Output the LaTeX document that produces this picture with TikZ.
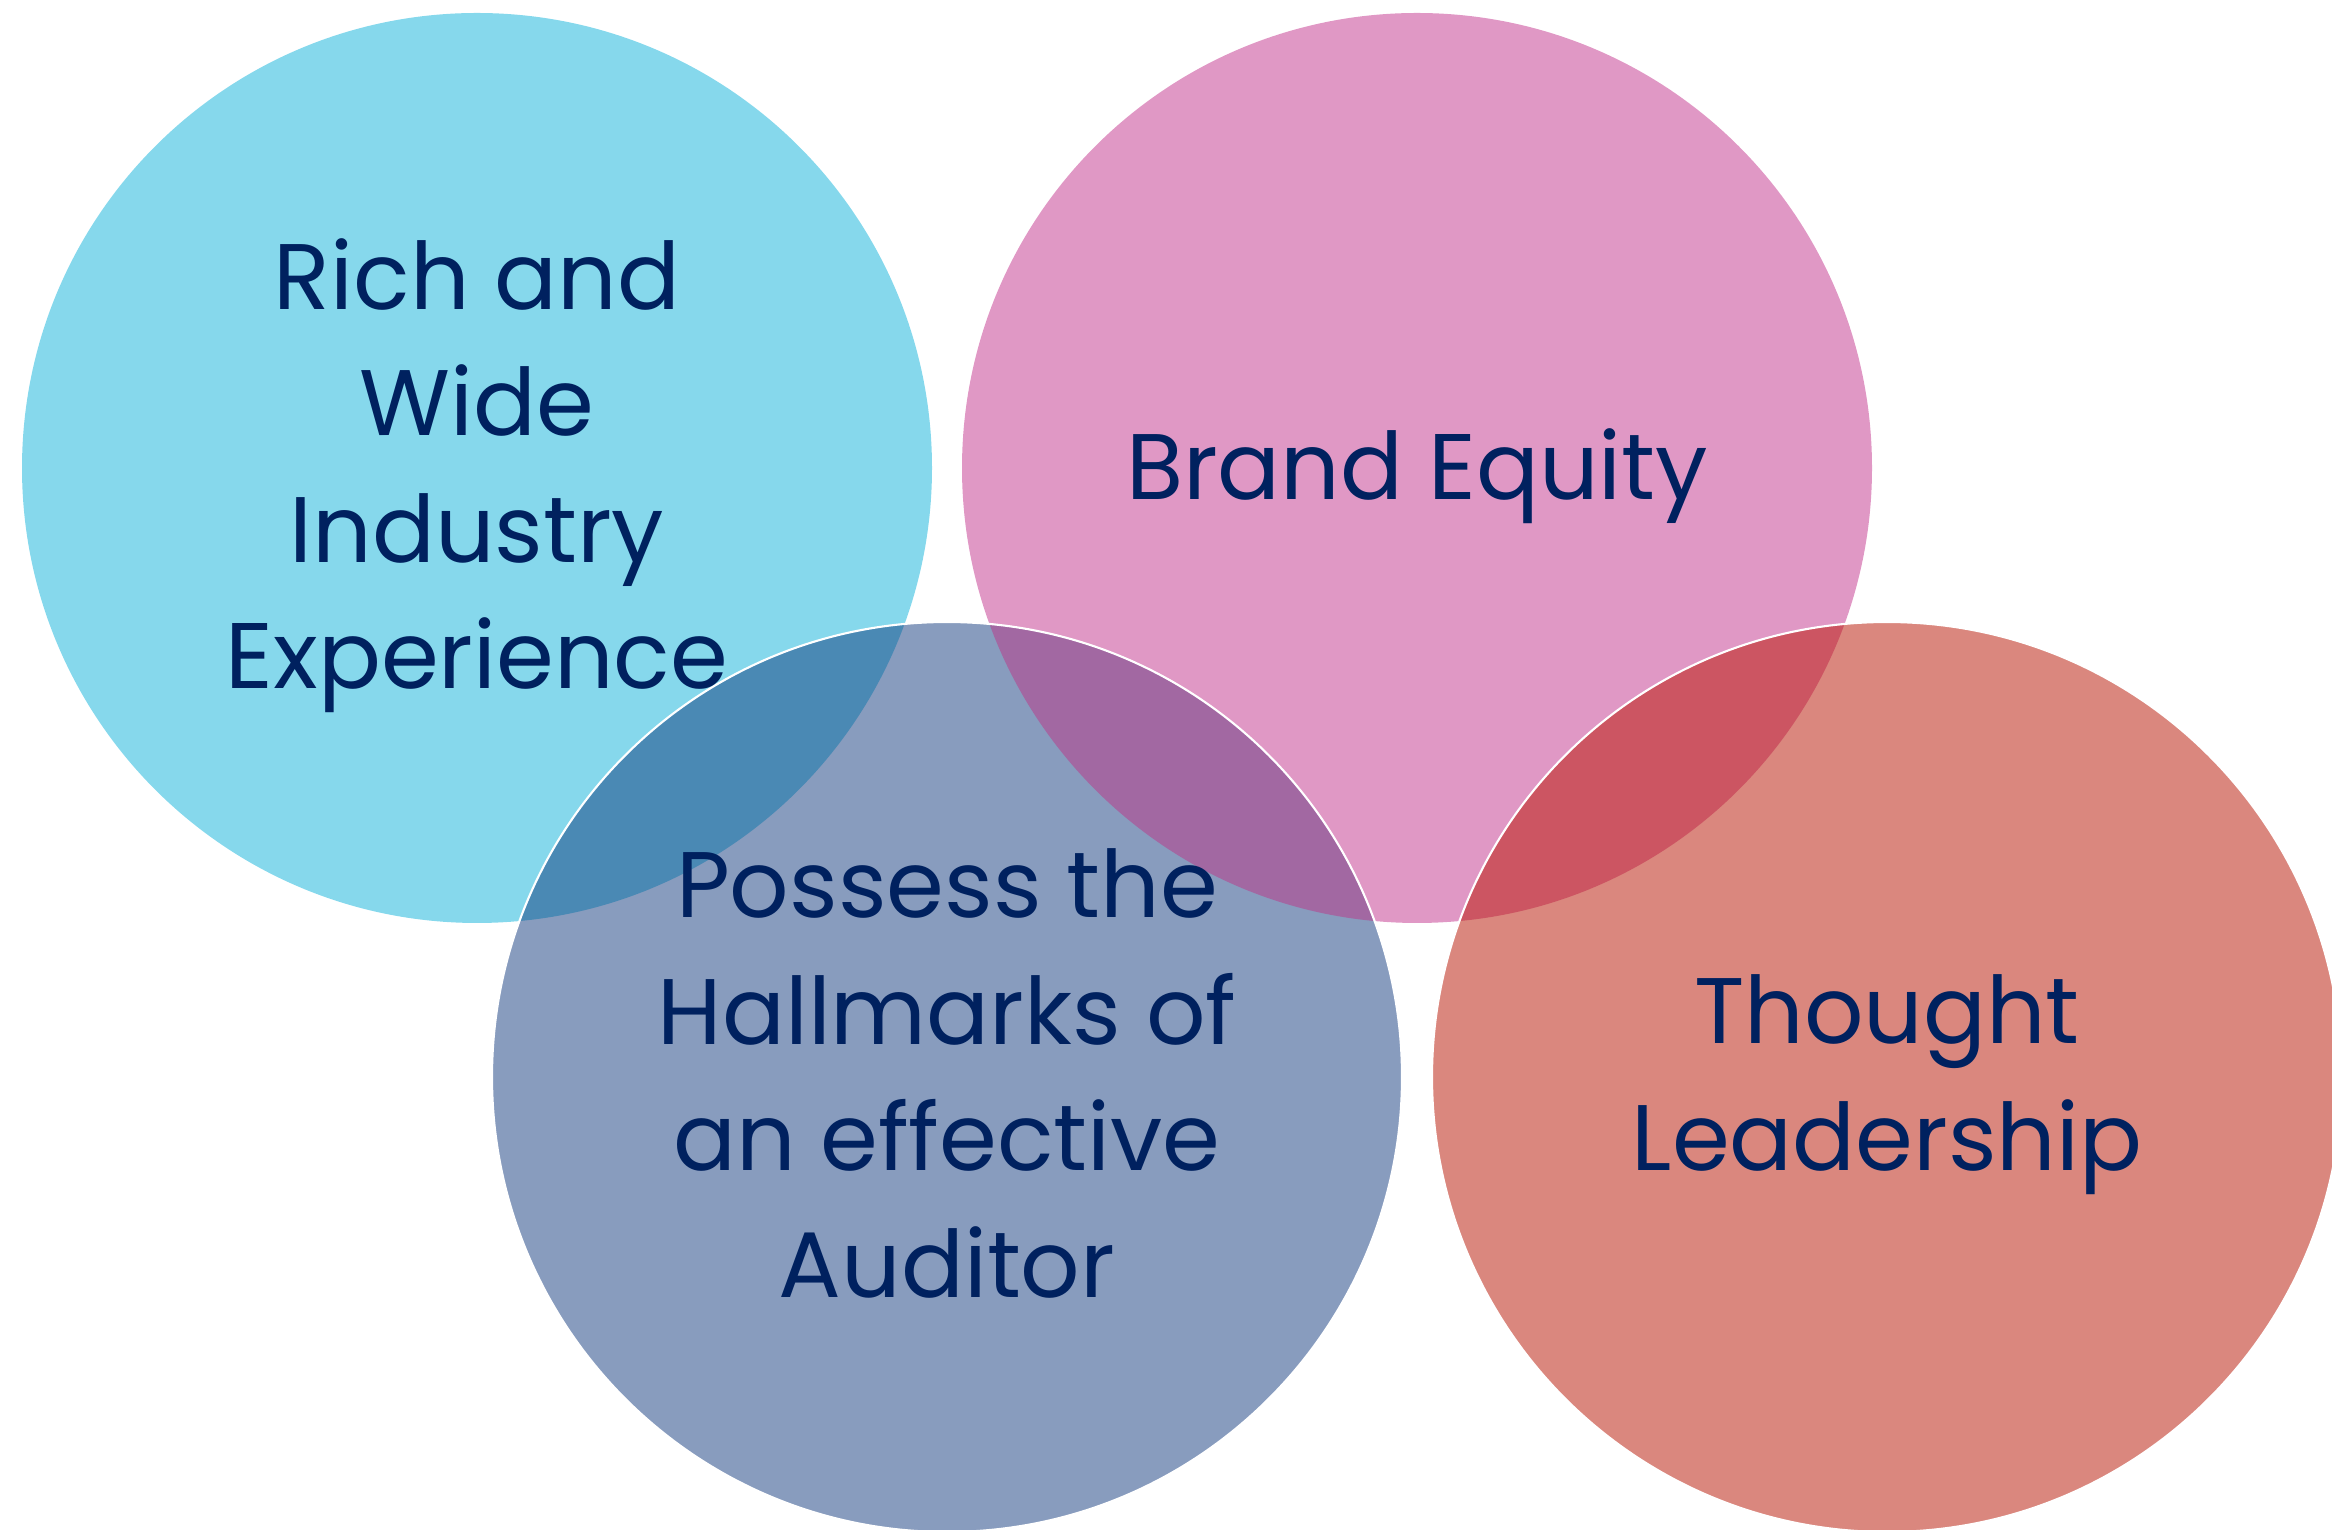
\documentclass[tikz,border=0pt]{standalone}
\usepackage[rgb]{xcolor}
\usepackage{fontspec}
\setmainfont{Poppins}
\usepackage{tikz}

\definecolor{skyc}{HTML}{86D8EC}
\definecolor{orchidc}{HTML}{E098C5}
\definecolor{slatec}{HTML}{889CBE}
\definecolor{salmonc}{HTML}{DA877E}
\definecolor{skyslate}{HTML}{4A89B4}
\definecolor{orchidslate}{HTML}{A268A2}
\definecolor{orchidsalmon}{HTML}{CC5562}
\definecolor{navytext}{HTML}{00215F}

\begin{document}
\begin{tikzpicture}[x=1cm, y=1cm,
  circtext/.style={align=center, text=navytext, font=\fontsize{26.5}{36}\selectfont},
  rim/.style={draw=white, line width=0.6pt}]

\useasboundingbox (0,0) rectangle (23.32,15.30);

% centres of the four circles
\coordinate (skyc) at (4.77,10.62);
\coordinate (orchidc) at (14.17,10.62);
\coordinate (slatec) at (9.47,4.53);
\coordinate (salmonc) at (18.87,4.53);

%% upper row
\fill[skyc] (skyc) circle [radius=4.55];
\fill[orchidc] (orchidc) circle [radius=4.55];

%% lower row
\fill[slatec] (slatec) circle [radius=4.55];
\fill[salmonc] (salmonc) circle [radius=4.55];

%% overlaps
\begin{scope}
 \clip (skyc) circle [radius=4.55];
 \fill[skyslate] (slatec) circle [radius=4.55];
\end{scope}
\begin{scope}
 \clip (orchidc) circle [radius=4.55];
 \fill[orchidslate] (slatec) circle [radius=4.55];
 \fill[orchidsalmon] (salmonc) circle [radius=4.55];
\end{scope}

%% white rims of the lower row
\foreach \c in {slatec, salmonc}
  {
  \draw[rim] (\c) circle [radius=4.55];
  }

%% texts
\path
(skyc) node[circtext, yshift=-2.2pt] (industry) {Rich and\\Wide\\Industry\\Experience};
\path
(orchidc) node[circtext, yshift=-2.2pt] (brand) {Brand Equity};
\path
(slatec) node[circtext, yshift=1pt] (auditor) {Possess the\\Hallmarks of\\an effective\\Auditor};
\path
(salmonc) node[circtext, yshift=-2.2pt] (thought) {Thought\\Leadership};

\end{tikzpicture}
\end{document}
